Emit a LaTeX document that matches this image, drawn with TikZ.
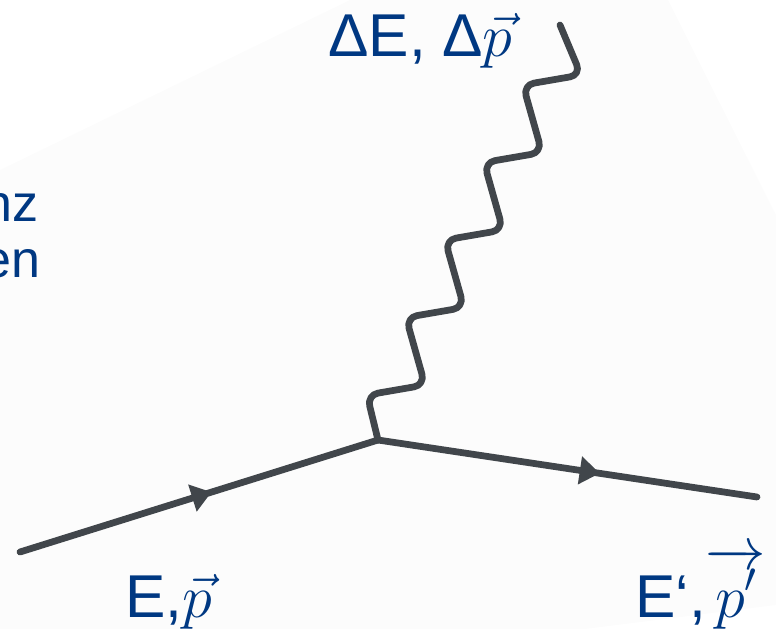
\documentclass[tikz,border=0pt]{standalone}
\usepackage{fix-cm}
\usepackage{fontspec}
\setmainfont{Liberation Sans}
\usepackage{tikz}
\usetikzlibrary{arrows.meta,decorations.markings}
\definecolor{labelblue}{RGB}{0,56,130}
\definecolor{linegray}{RGB}{65,70,75}
\definecolor{slidegray}{RGB}{252,252,252}

\begin{document}
\begin{tikzpicture}[
  x=0.025cm, y=-0.025cm,
  % one pixel of the reference is one unit, y counted downwards
  lbl/.style={text=labelblue, inner sep=0pt, font=\fontsize{43}{50}\selectfont},
  cutlbl/.style={lbl, anchor=base east, font=\fontsize{37}{44}\selectfont},
  leg/.style={draw=linegray, line width=4.8pt, line cap=round},
  fermion/.style={leg, postaction={decorate}, decoration={markings,
    mark=at position #1 with {\arrow[linegray]{Triangle[length=0.5cm, width=0.68cm]}}}},
  photon/.style={leg, rounded corners=8pt, line join=round}
]
\useasboundingbox (0,0) rectangle (776,629);
\clip (0,0) rectangle (776,629);
\fill[slidegray] (0,170) -- (350,0) -- (668,0) -- (776,215) -- (776,605)
  -- (585,629) -- (0,629) -- cycle;

\coordinate (v) at (378,440);
\coordinate (in) at (20,552);
\coordinate (out) at (757,497);
\coordinate (ph) at (560,25);

\draw[fermion=0.535] (in) -- (v);
\draw[fermion=0.585] (v) -- (out);
\draw[photon] (v) -- ++(-11,-45)
  \foreach \i in {1,...,4} { -- ++(58,-10) -- ++(-19,-67.5) }
  -- ++(58,-10) -- (ph);

\node[lbl, anchor=base west] (dq) at (328,57) {ΔE, Δ$\vec{p}$};
\node[lbl, anchor=base west] (ein) at (125,617) {E,$\vec{p}$};
\node[lbl, anchor=base west] (eout) at (635,617) {E‘,$\overrightarrow{p'}$};
\node[cutlbl] (cut1) at (39,222) {nz};
\node[cutlbl] (cut2) at (41,278) {en};
\end{tikzpicture}
\end{document}
